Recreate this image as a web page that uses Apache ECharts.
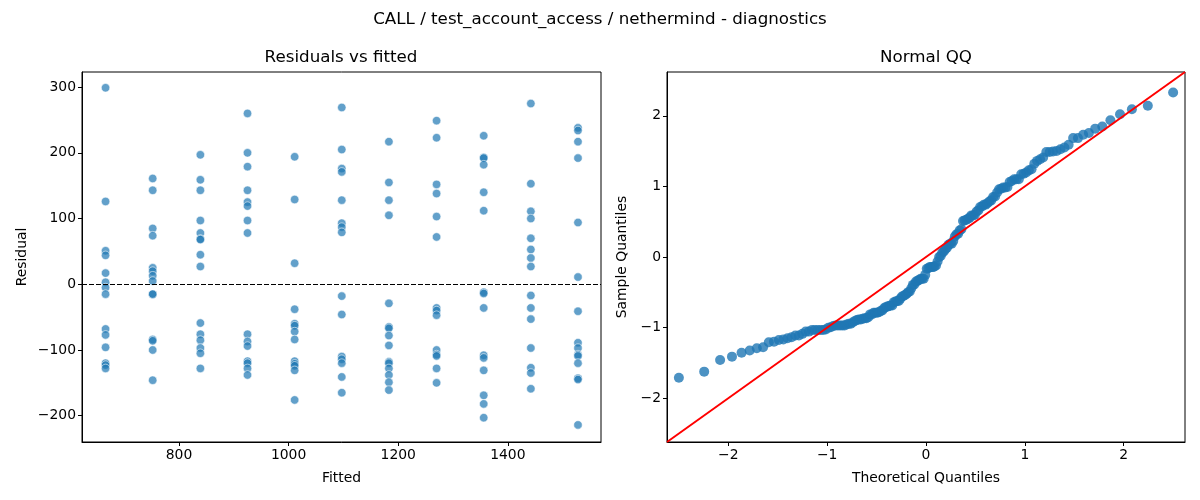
<!DOCTYPE html>
<html lang="en">
<head>
<meta charset="utf-8" />
<script src="https://cdn.jsdelivr.net/npm/echarts@6/dist/echarts.min.js"></script>
<style>
  html, body { margin: 0; padding: 0; background: #ffffff; }
  #main { width: 1200px; height: 500px; }
</style>
</head>
<body>
<div id="main"></div>
<script>
// fitted levels (x positions of the residual columns)
var fittedLevels = [666, 752, 839, 925, 1011, 1097, 1183, 1270, 1356, 1442, 1528];

// residuals read per fitted level
var res666  = [299, 126, 51, 44, 17, 3, -5, -15, -68, -77, -96, -120, -123, -128];
var res752  = [161, 143, 85, 74, 25, 20, 13, 5, -15, -15, -84, -86, -100, -146];
var res839  = [197, 159, 143, 97, 78, 69, 68, 45, 27, -59, -76, -85, -97, -105, -128];
var res925  = [260, 200, 179, 143, 125, 119, 97, 78, -76, -87, -94, -117, -120, -128, -138];
var res1011 = [194, 129, 32, -38, -60, -63, -72, -84, -117, -121, -124, -131, -176];
var res1097 = [269, 205, 176, 171, 128, 93, 87, 79, -18, -46, -110, -114, -120, -141, -165];
var res1183 = [217, 155, 128, 105, -29, -65, -67, -78, -93, -118, -120, -128, -138, -149, -161];
var res1270 = [249, 223, 152, 138, 103, 72, -36, -40, -47, -100, -107, -109, -128, -150];
var res1356 = [226, 193, 192, 182, 140, 112, -12, -14, -36, -108, -112, -131, -169, -182, -203];
var res1442 = [275, 153, 111, 100, 70, 53, 40, 27, -17, -36, -53, -97, -127, -135, -159];
var res1528 = [238, 234, 217, 192, 94, 11, -41, -89, -97, -107, -109, -120, -143, -145, -214];

var residualColumns = [res666, res752, res839, res925, res1011, res1097,
                       res1183, res1270, res1356, res1442, res1528];

// tick labels
var fittedTicks = [800, 1000, 1200, 1400];
var residualTicks = [-200, -100, 0, 100, 200, 300];
var qqTicks = [-2, -1, 0, 1, 2];

var FONT = 'DejaVu Sans';

function fmt(v) { return String(v).replace('-', '\u2212'); }

// inverse of the standard normal cdf (Acklam)
function normPpf(p) {
  var a = [-3.969683028665376e+01, 2.209460984245205e+02, -2.759285104469687e+02,
           1.383577518672690e+02, -3.066479806614716e+01, 2.506628277459239e+00];
  var b = [-5.447609879822406e+01, 1.615858368580409e+02, -1.556989798598866e+02,
           6.680131188771972e+01, -1.328068155288572e+01];
  var c = [-7.784894002430293e-03, -3.223964580411365e-01, -2.400758277161838e+00,
           -2.549671010229583e+00, 4.374664141464968e+00, 2.938163982698783e+00];
  var d = [7.784695709041462e-03, 3.224671290700398e-01, 2.445134137142996e+00,
           3.754408661907416e+00];
  var plow = 0.02425, q, r;
  if (p < plow) {
    q = Math.sqrt(-2 * Math.log(p));
    return (((((c[0]*q+c[1])*q+c[2])*q+c[3])*q+c[4])*q+c[5]) /
           ((((d[0]*q+d[1])*q+d[2])*q+d[3])*q+1);
  }
  if (p <= 1 - plow) {
    q = p - 0.5; r = q * q;
    return (((((a[0]*r+a[1])*r+a[2])*r+a[3])*r+a[4])*r+a[5])*q /
           (((((b[0]*r+b[1])*r+b[2])*r+b[3])*r+b[4])*r+1);
  }
  q = Math.sqrt(-2 * Math.log(1 - p));
  return -(((((c[0]*q+c[1])*q+c[2])*q+c[3])*q+c[4])*q+c[5]) /
          ((((d[0]*q+d[1])*q+d[2])*q+d[3])*q+1);
}

// residuals vs fitted points
var residPoints = [];
var allResid = [];
fittedLevels.forEach(function (f, i) {
  residualColumns[i].forEach(function (r) {
    residPoints.push([f, r]);
    allResid.push(r);
  });
});

// normal QQ from the same residuals (standardised, plotting pos i/(n+1))
var sorted = allResid.slice().sort(function (a, b) { return a - b; });
var n = sorted.length;
var mean = sorted.reduce(function (s, v) { return s + v; }, 0) / n;
var sd = Math.sqrt(sorted.reduce(function (s, v) { return s + (v - mean) * (v - mean); }, 0) / n);
var qqPoints = sorted.map(function (v, i) {
  return [normPpf((i + 1) / (n + 1)), (v - mean) / sd];
});

var qqMin = -2.62, qqMax = 2.62;

function axisBase(ticks) {
  return {
    type: 'value',
    splitLine: { show: false },
    axisLine: { show: true, onZero: false, lineStyle: { color: '#000', width: 1 } },
    axisTick: { show: true, length: 4, customValues: ticks, lineStyle: { color: '#000' } },
    axisLabel: { customValues: ticks, margin: 6, color: '#000', fontSize: 13.9, fontFamily: FONT,
                 formatter: function (v) { return fmt(v); } },
    nameLocation: 'middle',
    nameTextStyle: { color: '#000', fontSize: 13.9, fontFamily: FONT }
  };
}

var xLeft = axisBase(fittedTicks);
xLeft.gridIndex = 0; xLeft.min = 623; xLeft.max = 1570; xLeft.name = 'Fitted'; xLeft.nameGap = 29;
var yLeft = axisBase(residualTicks);
yLeft.gridIndex = 0; yLeft.min = -240; yLeft.max = 323; yLeft.name = 'Residual'; yLeft.nameGap = 53;
var xRight = axisBase(qqTicks);
xRight.gridIndex = 1; xRight.min = qqMin; xRight.max = qqMax; xRight.name = 'Theoretical Quantiles'; xRight.nameGap = 29;
var yRight = axisBase(qqTicks);
yRight.gridIndex = 1; yRight.min = qqMin; yRight.max = qqMax; yRight.name = 'Sample Quantiles'; yRight.nameGap = 38;

var titleStyle = { color: '#000', fontSize: 16.7, fontWeight: 'normal', fontFamily: FONT };

var chart = echarts.init(document.getElementById('main'), null, { renderer: 'canvas' });
chart.setOption({
  animation: false,
  backgroundColor: '#ffffff',
  title: [
    { text: 'CALL / test_account_access / nethermind - diagnostics', left: 600, top: 11, padding: 0,
      textAlign: 'center', textStyle: titleStyle },
    { text: 'Residuals vs fitted', left: 341, top: 49, padding: 0, textAlign: 'center', textStyle: titleStyle },
    { text: 'Normal QQ', left: 926, top: 49, padding: 0, textAlign: 'center', textStyle: titleStyle }
  ],
  grid: [
    { left: 82, top: 72, width: 519, height: 370, show: true, borderColor: '#000', borderWidth: 1 },
    { left: 667, top: 72, width: 518, height: 370, show: true, borderColor: '#000', borderWidth: 1 }
  ],
  xAxis: [xLeft, xRight],
  yAxis: [yLeft, yRight],
  series: [
    {
      type: 'scatter',
      xAxisIndex: 0, yAxisIndex: 0,
      data: residPoints,
      symbolSize: 8.5,
      itemStyle: { color: '#1f77b4', opacity: 0.7, borderColor: '#ffffff', borderWidth: 0.8 },
      markLine: {
        silent: true, symbol: 'none', label: { show: false },
        lineStyle: { color: '#000', width: 1, type: [5, 2] },
        data: [{ yAxis: 0 }]
      }
    },
    {
      type: 'scatter',
      xAxisIndex: 1, yAxisIndex: 1,
      data: qqPoints,
      symbolSize: 10,
      z: 2,
      itemStyle: { color: '#1f77b4' }
    },
    {
      type: 'line',
      xAxisIndex: 1, yAxisIndex: 1,
      data: [[qqMin, qqMin], [qqMax, qqMax]],
      showSymbol: false,
      z: 3,
      lineStyle: { color: '#ff0000', width: 2 }
    }
  ]
});
</script>
</body>
</html>
